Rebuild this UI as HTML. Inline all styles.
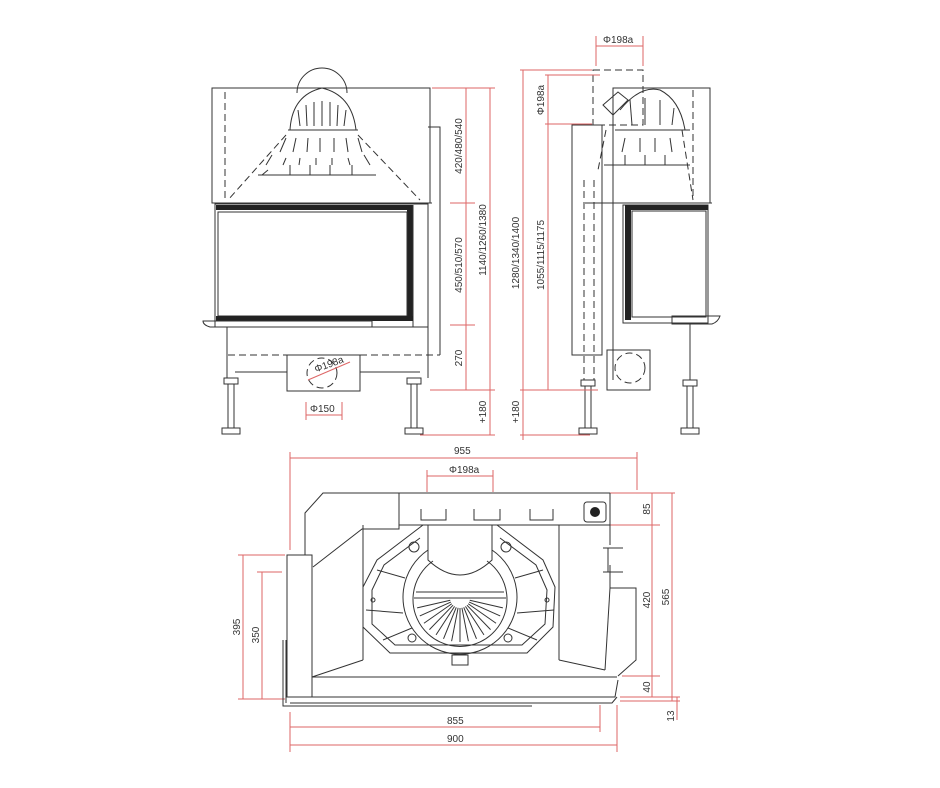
<!DOCTYPE html>
<html><head><meta charset="utf-8"><style>
html,body{margin:0;padding:0;background:#fff}
svg{display:block}
text{font-family:"Liberation Sans",sans-serif;font-size:10px;fill:#333}
.k{stroke:#333;fill:none;stroke-width:1}
.kd{stroke:#333;fill:none;stroke-width:1;stroke-dasharray:7 4}
.r{stroke:#d66;fill:none;stroke-width:1}
</style></head><body>
<svg width="940" height="788" viewBox="0 0 940 788" xmlns="http://www.w3.org/2000/svg">
<!-- FRONT VIEW -->
<g>
<rect class="k" x="212" y="88" width="218" height="115"/>
<line class="kd" x1="225" y1="92" x2="225" y2="198"/>
<path class="k" d="M297,93 A25,25 0 0 1 347,93"/>
<path class="k" d="M290,130 Q292,95 322,88 Q352,95 356,130 Z"/>
<g class="k" stroke-width="1.4">
<line x1="298" y1="110" x2="300" y2="126"/><line x1="306" y1="105" x2="307" y2="126"/><line x1="314" y1="102" x2="314" y2="126"/><line x1="322" y1="101" x2="322" y2="126"/><line x1="330" y1="102" x2="330" y2="126"/><line x1="338" y1="105" x2="337" y2="126"/><line x1="346" y1="110" x2="344" y2="126"/>
<line x1="288" y1="130" x2="358" y2="130"/>
<line x1="286" y1="138" x2="280" y2="152"/><line x1="296" y1="138" x2="293" y2="152"/><line x1="308" y1="138" x2="307" y2="152"/><line x1="320" y1="138" x2="320" y2="152"/><line x1="334" y1="138" x2="334" y2="152"/><line x1="346" y1="138" x2="348" y2="152"/><line x1="358" y1="138" x2="362" y2="152"/>
<line x1="272" y1="155" x2="266" y2="165"/><line x1="286" y1="158" x2="283" y2="165"/><line x1="300" y1="158" x2="299" y2="165"/><line x1="316" y1="158" x2="316" y2="165"/><line x1="332" y1="158" x2="332" y2="165"/><line x1="348" y1="158" x2="350" y2="165"/><line x1="364" y1="155" x2="370" y2="165"/>
<line x1="258" y1="175" x2="376" y2="175"/>
<line x1="268" y1="170" x2="262" y2="175"/><line x1="290" y1="165" x2="290" y2="175"/><line x1="310" y1="165" x2="310" y2="175"/><line x1="330" y1="165" x2="330" y2="175"/><line x1="352" y1="165" x2="352" y2="175"/>
</g>
<line class="kd" x1="286" y1="135" x2="228" y2="200"/>
<line class="kd" x1="358" y1="135" x2="420" y2="200"/>
<line class="k" x1="212" y1="203" x2="432" y2="203"/>
<rect class="k" x="215" y="204" width="213" height="123"/>
<rect x="216" y="205" width="196" height="5" fill="#222"/>
<rect x="407" y="205" width="6" height="116" fill="#222"/>
<rect class="k" x="218" y="212" width="189" height="104"/>
<line class="k" x1="413" y1="205" x2="413" y2="327"/>
<rect x="216" y="316" width="197" height="5" fill="#222"/>
<path class="k" d="M203,321 L372,321 L372,327 L210,327 Q203,325 203,321 Z"/>
<line class="k" x1="227" y1="327" x2="227" y2="378"/>
<line class="k" x1="428" y1="327" x2="428" y2="378"/>
<line class="k" x1="235" y1="372" x2="287" y2="372"/>
<line class="k" x1="360" y1="372" x2="420" y2="372"/>
<line class="kd" x1="228" y1="355" x2="440" y2="355"/>
<path class="k" d="M428,127 L440,127 L440,355"/>
<rect class="k" x="287" y="355" width="73" height="36"/>
<circle class="kd" cx="322" cy="373" r="15" stroke-dasharray="8 5"/>
<line class="r" x1="308" y1="380" x2="350" y2="362"/>
<text x="314" y="370" font-size="9" transform="rotate(-20 322 366)">Φ198a</text>
<g class="k">
<rect x="224" y="378" width="14" height="6"/><rect x="228" y="384" width="6" height="44"/><rect x="222" y="428" width="18" height="6"/>
<rect x="407" y="378" width="14" height="6"/><rect x="411" y="384" width="6" height="44"/><rect x="405" y="428" width="18" height="6"/>
</g>
<g class="r">
<line x1="432" y1="88" x2="495" y2="88"/>
<line x1="450" y1="203" x2="475" y2="203"/>
<line x1="450" y1="325" x2="475" y2="325"/>
<line x1="430" y1="390" x2="495" y2="390"/>
<line x1="420" y1="435" x2="495" y2="435"/>
<line x1="466" y1="88" x2="466" y2="390"/>
<line x1="490" y1="88" x2="490" y2="435"/>
<line x1="306" y1="402" x2="306" y2="420"/><line x1="342" y1="402" x2="342" y2="420"/>
<line x1="306" y1="415" x2="342" y2="415"/>
</g>
<text x="310" y="412">Φ150</text>
<text transform="translate(462,146) rotate(-90)" text-anchor="middle">420/480/540</text>
<text transform="translate(462,265) rotate(-90)" text-anchor="middle">450/510/570</text>
<text transform="translate(462,358) rotate(-90)" text-anchor="middle">270</text>
<text transform="translate(486,240) rotate(-90)" text-anchor="middle">1140/1260/1380</text>
<text transform="translate(486,412) rotate(-90)" text-anchor="middle">+180</text>
</g>

<!-- SIDE VIEW -->
<g>
<rect class="kd" x="593" y="70" width="50" height="55"/>
<rect class="k" x="613" y="88" width="97" height="115"/>
<line class="kd" x1="693" y1="90" x2="693" y2="200"/>
<path class="k" d="M620,110 Q640,85 660,90 Q680,100 685,130"/>
<g class="k" stroke-width="1.4">
<line x1="615" y1="130" x2="690" y2="130"/>
<line x1="630" y1="100" x2="632" y2="125"/><line x1="645" y1="98" x2="645" y2="125"/><line x1="660" y1="100" x2="660" y2="125"/><line x1="674" y1="108" x2="672" y2="125"/>
<line x1="625" y1="138" x2="622" y2="152"/><line x1="640" y1="138" x2="640" y2="152"/><line x1="655" y1="138" x2="655" y2="152"/><line x1="670" y1="138" x2="672" y2="152"/>
<line x1="604" y1="165" x2="690" y2="165"/>
<line x1="625" y1="155" x2="625" y2="165"/><line x1="645" y1="155" x2="645" y2="165"/><line x1="665" y1="155" x2="665" y2="165"/>
<path d="M603,105 L618,92 L628,100 L613,115 Z"/>
</g>
<line class="kd" x1="606" y1="130" x2="598" y2="170"/>
<line class="kd" x1="682" y1="130" x2="693" y2="200"/>
<rect class="k" x="572" y="125" width="30" height="230"/>
<line class="kd" x1="584" y1="180" x2="584" y2="380"/>
<line class="kd" x1="594" y1="180" x2="594" y2="380"/>
<line class="k" x1="602" y1="205" x2="602" y2="350"/>
<line class="k" x1="613" y1="203" x2="613" y2="380"/>
<line class="k" x1="585" y1="203" x2="712" y2="203"/>
<rect class="k" x="623" y="205" width="85" height="118"/>
<rect x="625" y="205" width="83" height="5" fill="#222"/>
<rect x="625" y="205" width="6" height="115" fill="#222"/>
<rect class="k" x="632" y="211" width="74" height="106"/>
<path class="k" d="M672,316 L720,316 Q718,322 712,324 L672,324 Z"/>
<line class="k" x1="690" y1="324" x2="690" y2="380"/>
<rect class="k" x="607" y="350" width="43" height="40"/>
<circle class="kd" cx="630" cy="368" r="15"/>
<g class="k">
<rect x="581" y="380" width="14" height="6"/><rect x="585" y="386" width="6" height="42"/><rect x="579" y="428" width="18" height="6"/>
<rect x="683" y="380" width="14" height="6"/><rect x="687" y="386" width="6" height="42"/><rect x="681" y="428" width="18" height="6"/>
</g>
<g class="r">
<line x1="596" y1="36" x2="596" y2="66"/><line x1="643" y1="36" x2="643" y2="66"/>
<line x1="596" y1="46" x2="643" y2="46"/>
<line x1="520" y1="70" x2="592" y2="70"/>
<line x1="545" y1="75" x2="600" y2="75"/>
<line x1="545" y1="124" x2="592" y2="124"/>
<line x1="520" y1="390" x2="598" y2="390"/>
<line x1="520" y1="435" x2="590" y2="435"/>
<line x1="523" y1="70" x2="523" y2="440"/>
<line x1="548" y1="75" x2="548" y2="390"/>
</g>
<text x="603" y="43">Φ198a</text>
<text transform="translate(544,100) rotate(-90)" text-anchor="middle">Φ198a</text>
<text transform="translate(519,253) rotate(-90)" text-anchor="middle">1280/1340/1400</text>
<text transform="translate(544,255) rotate(-90)" text-anchor="middle">1055/1115/1175</text>
<text transform="translate(519,412) rotate(-90)" text-anchor="middle">+180</text>
</g>

<!-- TOP VIEW -->
<g>
<g class="r">
<line x1="290" y1="458" x2="637" y2="458"/>
<line x1="290" y1="452" x2="290" y2="550"/>
<line x1="637" y1="452" x2="637" y2="490"/>
<line x1="427" y1="476" x2="493" y2="476"/>
<line x1="427" y1="470" x2="427" y2="492"/><line x1="493" y1="470" x2="493" y2="492"/>
<line x1="400" y1="493" x2="675" y2="493"/>
<line x1="610" y1="525" x2="660" y2="525"/>
<line x1="622" y1="676" x2="660" y2="676"/>
<line x1="620" y1="697" x2="680" y2="697"/>
<line x1="620" y1="701" x2="680" y2="701"/>
<line x1="652" y1="493" x2="652" y2="697"/>
<line x1="672" y1="493" x2="672" y2="701"/>
<line x1="677" y1="697" x2="677" y2="720"/>
<line x1="238" y1="555" x2="285" y2="555"/>
<line x1="257" y1="572" x2="282" y2="572"/>
<line x1="238" y1="699" x2="285" y2="699"/>
<line x1="243" y1="555" x2="243" y2="699"/>
<line x1="262" y1="572" x2="262" y2="699"/>
<line x1="290" y1="712" x2="290" y2="752"/>
<line x1="600" y1="705" x2="600" y2="732"/>
<line x1="617" y1="705" x2="617" y2="752"/>
<line x1="290" y1="727" x2="600" y2="727"/>
<line x1="290" y1="745" x2="617" y2="745"/>
</g>
<text x="454" y="454" font-size="9">955</text>
<text x="449" y="473" font-size="9">Φ198a</text>
<text x="447" y="724" font-size="9">855</text>
<text x="447" y="742" font-size="9">900</text>
<text transform="translate(650,509) rotate(-90)" text-anchor="middle" font-size="9">85</text>
<text transform="translate(650,600) rotate(-90)" text-anchor="middle" font-size="9">420</text>
<text transform="translate(650,687) rotate(-90)" text-anchor="middle" font-size="9">40</text>
<text transform="translate(669,597) rotate(-90)" text-anchor="middle" font-size="9">565</text>
<text transform="translate(674,716) rotate(-90)" text-anchor="middle" font-size="9">13</text>
<text transform="translate(240,627) rotate(-90)" text-anchor="middle" font-size="9">395</text>
<text transform="translate(259,635) rotate(-90)" text-anchor="middle" font-size="9">350</text>

<path class="k" d="M305,555 L305,513 L323,493 L399,493 L399,529 L362,529 L313,567"/>
<line class="k" x1="399" y1="493" x2="610" y2="493"/>
<line class="k" x1="399" y1="525" x2="610" y2="525"/>
<g class="k">
<path d="M421,509 L421,520 L446,520 L446,509"/>
<path d="M474,509 L474,520 L500,520 L500,509"/>
<path d="M530,509 L530,520 L553,520 L553,509"/>
</g>
<rect class="k" x="584" y="502" width="22" height="20" rx="3"/>
<circle cx="595" cy="512" r="5" fill="#222"/>
<path class="k" d="M610,493 L610,545 M610,565 L610,588 L636,588 L636,660 L618,676 M603,548 L623,548 M603,572 L623,572 M608,548 L608,572"/>
<path class="k" d="M610,588 L605,670"/>
<rect class="k" x="287" y="555" width="25" height="142"/>
<path class="k" d="M312,677 L617,677"/>
<line class="k" x1="312" y1="677" x2="363" y2="660"/>
<line class="k" x1="363" y1="525" x2="363" y2="660"/>
<line class="k" x1="559" y1="525" x2="559" y2="660"/>
<line class="k" x1="559" y1="660" x2="605" y2="670"/>
<path class="k" d="M290,697 L615,697 L618,680 M290,703 L612,703 L617,697"/>
<path class="k" d="M283,640 L283,706 L532,706 M286,640 L286,703"/>
<!-- octagon -->
<path class="k" d="M423,525 L377,560 L363,587 L363,627 L390,653 L527,653 L553,627 L555,587 L543,560 L497,525"/>
<path class="k" d="M420,538 L384,565 L372,590 L372,624 L395,645 L522,645 L545,624 L547,590 L536,565 L500,538"/>
<!-- channel + horseshoe -->
<path class="k" d="M428,525 L428,560 Q460,590 492,560 L492,525"/>
<path class="k" d="M428,550 A57,57 0 1 0 492,550"/>
<path class="k" d="M433,561 A47,47 0 1 0 487,561"/>
<path class="k" d="M416,592 L504,592 M414,598 L506,598"/>
<g class="k" transform="translate(460,598)">
<line x1="0" y1="10" x2="0" y2="44"/>
<line x1="0" y1="10" x2="0" y2="44" transform="rotate(11)"/><line x1="0" y1="10" x2="0" y2="44" transform="rotate(-11)"/>
<line x1="0" y1="10" x2="0" y2="44" transform="rotate(22)"/><line x1="0" y1="10" x2="0" y2="44" transform="rotate(-22)"/>
<line x1="0" y1="10" x2="0" y2="44" transform="rotate(33)"/><line x1="0" y1="10" x2="0" y2="44" transform="rotate(-33)"/>
<line x1="0" y1="10" x2="0" y2="44" transform="rotate(44)"/><line x1="0" y1="10" x2="0" y2="44" transform="rotate(-44)"/>
<line x1="0" y1="10" x2="0" y2="44" transform="rotate(55)"/><line x1="0" y1="10" x2="0" y2="44" transform="rotate(-55)"/>
<line x1="0" y1="10" x2="0" y2="44" transform="rotate(66)"/><line x1="0" y1="10" x2="0" y2="44" transform="rotate(-66)"/>
<line x1="0" y1="10" x2="0" y2="44" transform="rotate(77)"/><line x1="0" y1="10" x2="0" y2="44" transform="rotate(-77)"/>
</g>
<g class="k">
<line x1="377" y1="570" x2="405" y2="578"/><line x1="543" y1="570" x2="515" y2="578"/>
<line x1="366" y1="610" x2="403" y2="613"/><line x1="554" y1="610" x2="517" y2="613"/>
<line x1="383" y1="640" x2="412" y2="628"/><line x1="537" y1="640" x2="508" y2="628"/>
<circle cx="414" cy="547" r="5"/><circle cx="506" cy="547" r="5"/>
<circle cx="412" cy="638" r="4"/><circle cx="508" cy="638" r="4"/>
<circle cx="373" cy="600" r="2"/><circle cx="547" cy="600" r="2"/>
<rect x="452" y="655" width="16" height="10"/>
</g>
</g>
</svg>
</body></html>
